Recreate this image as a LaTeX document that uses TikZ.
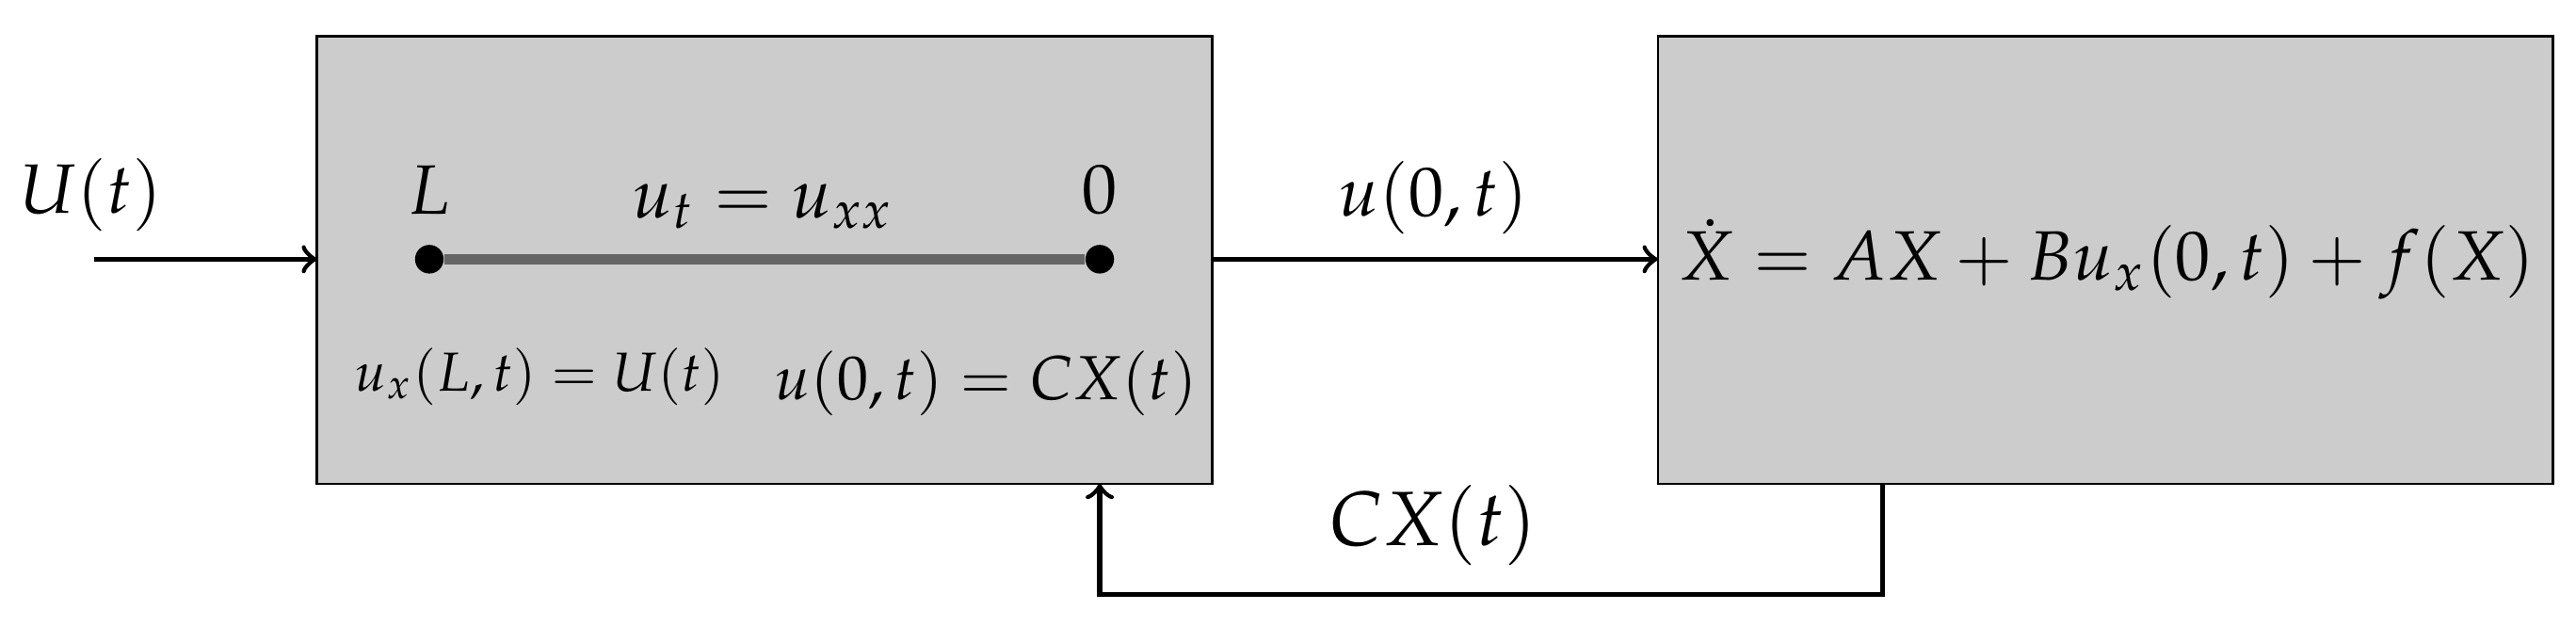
\documentclass[tikz,border=0pt]{standalone}
\usepackage{mathpazo}
\begin{document}
\begin{tikzpicture}[x=0.3pt,y=-0.3pt,
  blk/.style={draw=black,line width=0.45pt,fill=black!20},
  arr/.style={line width=0.9pt,->,>=to},
  dot/.style={circle,fill=black,inner sep=0pt,minimum size=5.2pt},
  lbl/.style={font=\fontsize{12.7}{15}\selectfont}]
\useasboundingbox (0,0) rectangle (1560,379);
\path[blk] (192,22) rectangle (734,293);
\path[blk] (1004,22) rectangle (1546,293);
\node[dot] (l) at (260,157) {};
\node[dot] (z) at (666,157) {};
\draw[line width=1.9pt,black!60] (l) -- (z);
\node[lbl] at (260,115) {$L$};
\node[lbl] at (666,115) {$0$};
\node[lbl] at (462,125) {$u_t=u_{xx}$};
\node[font=\fontsize{10}{12}\selectfont] at (327,228) {$u_x(L,t)=U(t)$};
\node[font=\fontsize{11.3}{13}\selectfont] at (597,232) {$u(0,t)=CX(t)$};
\coordinate (in) at (57,157);
\coordinate (lb) at (192,157);
\coordinate (lo) at (734,157);
\coordinate (ri) at (1004,157);
\draw[arr] (in) -- (lb);
\node[lbl] at (55,118) {$U(t)$};
\draw[arr] (lo) -- (ri);
\node[lbl] at (868,120) {$u(0,t)$};
\node[lbl] at (1276,157) {$\dot X=AX+Bu_x(0,t)+f(X)$};
\coordinate (fb) at (1140,293);
\coordinate (ft) at (666,293);
\draw[arr] (fb) -- (1140,360) -- (666,360) -- (ft);
\node[font=\fontsize{14}{16}\selectfont] at (868,318) {$CX(t)$};
\end{tikzpicture}
\end{document}
